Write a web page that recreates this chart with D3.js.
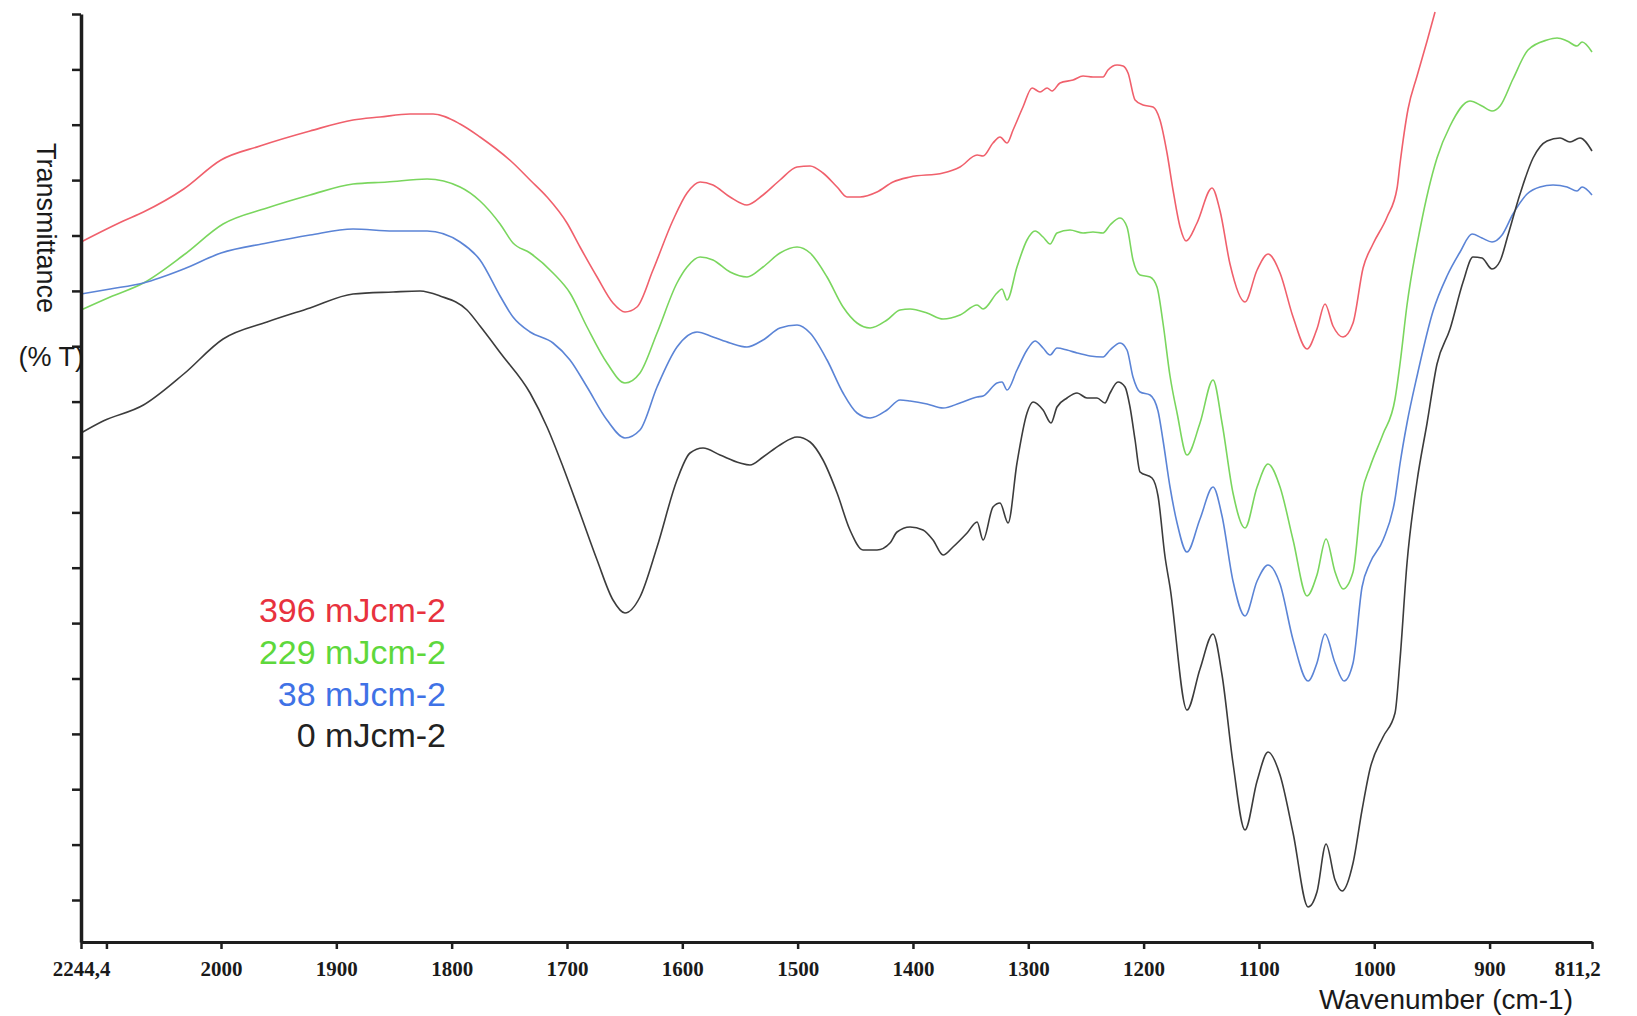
<!DOCTYPE html>
<html>
<head>
<meta charset="utf-8">
<script src="https://cdn.jsdelivr.net/npm/d3@7"></script>
<style>
  html, body { margin: 0; padding: 0; background: #ffffff; }
  svg { display: block; }
</style>
</head>
<body>
<svg id="chart" width="1637" height="1016"></svg>
<script>
// FTIR transmittance spectra of films exposed to increasing UV doses.
// Each spectrum: [wavenumber (cm-1), transmittance (arbitrary %T units, offset stack)]

const dose396 = [[2244.4,70.0],[2170.6,72.1],[2135.4,73.0],[2065.1,75.3],[2000,78.2],[1966.2,79.6],[1922.8,81.1],[1885.5,82.2],[1862.1,82.5],[1836.1,82.8],[1816.1,82.8],[1792.7,81.8],[1775.4,80.5],[1746.8,77.9],[1732,76.2],[1717.3,74.5],[1700,71.9],[1688.7,69.5],[1673.9,66.5],[1660.1,63.9],[1649.7,63.0],[1639.3,63.5],[1625.4,67.2],[1608,72.2],[1595.9,74.9],[1584.6,76.0],[1573.4,75.7],[1558.6,74.5],[1543.9,73.7],[1530,74.7],[1515.3,76.2],[1500.5,77.5],[1489.2,77.6],[1478,76.9],[1465.8,75.5],[1457.2,74.5],[1445.9,74.5],[1431.2,75.0],[1417.3,76.0],[1402.5,76.5],[1373.9,76.9],[1359.2,77.5],[1344.4,78.7],[1339.2,78.6],[1330.6,79.9],[1324.5,80.5],[1318.4,79.9],[1313.2,81.2],[1304.6,83.5],[1296.7,85.4],[1289.8,85.0],[1283.7,85.4],[1279.4,85.1],[1272.5,85.9],[1261.2,86.2],[1252.5,86.6],[1243.9,86.5],[1235.2,86.5],[1230.9,87.2],[1223,87.7],[1217.8,87.6],[1213.5,86.9],[1207.4,84.2],[1200.5,83.7],[1191.8,83.5],[1185.8,82.2],[1179.7,78.9],[1174.5,75.2],[1168.4,71.5],[1163.2,70.1],[1153.7,71.9],[1140.7,75.4],[1133.7,73.1],[1125.1,67.8],[1112.1,64.0],[1101.6,67.2],[1092.1,68.8],[1081.7,66.9],[1070.4,62.5],[1058.3,59.3],[1049.7,61.3],[1042.7,63.8],[1035.8,61.6],[1027.1,60.5],[1018.4,61.9],[1009.7,67.4],[1001.1,69.8],[988.9,72.5],[980.2,75.4],[977.7,77.8],[970.7,83.3],[962.9,86.6],[954.2,90.1],[947.3,93.0]];

const dose229 = [[2244.4,63.2],[2193.4,64.5],[2135.4,65.9],[2065.1,68.7],[1998.2,71.8],[1960.1,73.4],[1922.8,74.7],[1885.5,75.8],[1856,76.0],[1821.3,76.3],[1792.7,75.5],[1775.4,74.1],[1758,71.8],[1746.8,69.9],[1732,68.9],[1712.1,66.9],[1697.4,64.9],[1682.6,61.5],[1665.3,57.9],[1649.7,55.9],[1636.7,56.9],[1621.9,60.9],[1604.6,65.9],[1595.9,67.5],[1584.6,68.5],[1573.4,68.2],[1558.6,67.0],[1543.9,66.5],[1530,67.5],[1515.3,68.9],[1500.5,69.5],[1489.2,68.9],[1474.5,66.5],[1460.6,63.5],[1448.5,61.9],[1437.2,61.4],[1422.5,62.2],[1411.2,63.2],[1402.5,63.3],[1387.8,62.9],[1373.9,62.3],[1359.2,62.7],[1344.4,63.7],[1339.2,63.3],[1327.1,64.9],[1322.8,65.3],[1318.4,64.2],[1309.8,67.5],[1301.1,70.2],[1294.1,71.1],[1287.2,70.5],[1281.1,69.8],[1275.1,70.9],[1263.8,71.2],[1252.5,70.9],[1243.9,71.0],[1235.2,70.9],[1229.1,71.7],[1220.4,72.4],[1214.4,71.5],[1209.2,68.2],[1203.1,66.7],[1194.4,66.5],[1188.4,65.5],[1183.2,61.9],[1177.1,56.6],[1171,52.9],[1162.4,48.7],[1151.1,51.9],[1139.8,56.2],[1132,51.9],[1122.5,44.9],[1112.1,41.4],[1101.6,45.5],[1092.1,47.8],[1081.7,45.5],[1070.4,40.2],[1058.3,34.6],[1049.7,36.7],[1041.8,40.3],[1034,37.0],[1027.1,35.3],[1018.4,37.0],[1010.6,44.9],[1003.7,47.5],[992.4,50.8],[982,54.3],[977.7,57.8],[971.6,63.7],[960.3,71.3],[945.6,78.4],[934.3,81.6],[917,84.1],[906.6,83.6],[897.9,83.1],[890.9,83.6],[879.7,86.3],[866.7,89.2],[850.2,90.2],[841.5,90.4],[832.8,90.1],[824.2,89.6],[819.8,90.0],[811.2,89.0]];

const dose38 = [[2244.4,64.8],[2193.4,65.3],[2135.4,65.9],[2065.1,67.3],[2000,68.9],[1960.1,69.9],[1922.8,70.7],[1885.5,71.3],[1850.8,71.1],[1821.3,71.1],[1792.7,70.0],[1775.4,68.2],[1758,64.6],[1746.8,62.5],[1732,61.0],[1712.1,59.9],[1697.4,58.2],[1682.6,55.5],[1665.3,52.2],[1649.7,50.4],[1636.7,51.2],[1621.9,55.5],[1604.6,59.5],[1587.2,61.0],[1573.4,60.5],[1558.6,59.9],[1543.9,59.5],[1530,60.2],[1515.3,61.4],[1500.5,61.7],[1489.2,60.9],[1474.5,58.2],[1460.6,54.9],[1448.5,52.9],[1437.2,52.4],[1422.5,53.2],[1411.2,54.2],[1402.5,54.1],[1387.8,53.8],[1373.9,53.4],[1359.2,53.9],[1344.4,54.5],[1339.2,54.6],[1327.1,55.9],[1322.8,56.0],[1318.4,55.2],[1309.8,57.2],[1301.1,59.2],[1294.1,60.1],[1287.2,59.4],[1281.1,58.7],[1275.1,59.4],[1266.4,59.2],[1257.7,58.9],[1246.5,58.6],[1235.2,58.5],[1229.1,59.2],[1220.4,59.9],[1214.4,59.2],[1209.2,56.5],[1203.1,55.0],[1194.4,54.7],[1187.5,53.1],[1183.2,50.2],[1177.1,45.5],[1171,41.9],[1162.4,39.0],[1151.1,42.3],[1139.8,45.5],[1132,42.6],[1122.5,36.1],[1112.1,32.6],[1101.6,36.1],[1092.1,37.7],[1081.7,35.8],[1070.4,30.2],[1057.4,26.1],[1049.7,27.9],[1042.7,30.8],[1034,27.9],[1026.2,26.1],[1018.4,27.9],[1010.6,35.5],[1003.7,37.9],[992.4,40.2],[982,44.3],[977.7,47.8],[971.6,51.9],[962.9,56.6],[949,63.1],[936.9,66.6],[925.6,69.0],[915.2,70.8],[906.6,70.4],[897.9,70.0],[889.2,70.7],[879.7,72.8],[867.5,74.8],[856.3,75.5],[845,75.7],[832.8,75.5],[824.2,75.1],[819.8,75.5],[811.2,74.7]];

const dose0 = [[2244.4,50.9],[2205.7,52.1],[2135.4,53.7],[2065.1,56.8],[1998.2,60.3],[1960.1,62.0],[1922.8,63.4],[1885.5,64.8],[1850.8,65.0],[1827.4,65.1],[1810.1,64.6],[1786.7,63.2],[1775.4,61.6],[1757,58.8],[1732,54.9],[1717.3,51.5],[1703.4,47.5],[1688.7,42.9],[1673.9,38.2],[1660.1,34.2],[1649.7,32.9],[1636.7,34.5],[1621.9,39.5],[1604.6,46.2],[1593.3,48.9],[1582,49.4],[1567.3,48.7],[1549.9,47.9],[1541.3,47.7],[1530,48.5],[1515.3,49.7],[1500.5,50.5],[1489.2,50.0],[1478,48.2],[1465.8,44.9],[1454.6,41.2],[1443.3,39.2],[1431.2,39.2],[1419.9,39.9],[1413.8,41.0],[1402.5,41.5],[1391.3,41.2],[1382.6,40.2],[1373.9,38.7],[1365.3,39.5],[1353.1,40.9],[1344.4,42.0],[1339.2,40.2],[1330.6,43.5],[1324.5,43.9],[1317.5,41.9],[1309.8,47.9],[1301.1,52.9],[1295.9,54.0],[1287.2,53.2],[1280.3,51.9],[1275.1,53.5],[1266.4,54.4],[1257.7,54.9],[1249.1,54.4],[1240.4,54.4],[1233.5,53.9],[1229.1,54.9],[1222.2,56.0],[1216.1,55.5],[1211.8,53.5],[1207.4,50.2],[1203.1,47.0],[1192.7,46.4],[1187.5,44.6],[1181.4,38.5],[1177.1,35.5],[1162.4,23.2],[1151.1,27.3],[1139.8,30.8],[1132,26.7],[1122.5,17.9],[1112.1,11.2],[1101.6,16.1],[1092.1,19.0],[1081.7,16.7],[1070.4,10.9],[1057.4,3.5],[1049.7,5.0],[1041.8,9.8],[1034,6.2],[1027.9,5.1],[1018.4,7.9],[1010.6,13.2],[1003.7,17.3],[992.4,20.5],[982,22.9],[977.7,28.2],[971.6,37.9],[962.9,46.1],[954.2,51.9],[945.6,57.8],[934.3,61.3],[923,66.0],[914.4,68.5],[906.6,68.4],[897.9,67.3],[890.9,68.1],[884,70.7],[873.6,74.8],[862.3,78.4],[850.2,80.1],[838.9,80.4],[830.3,80.0],[821.6,80.4],[811.2,79.1]];

const doseLabels = ["396 mJcm-2", "229 mJcm-2", "38 mJcm-2", "0 mJcm-2"];

const xTickValues = [2244.4, 2200, 2000, 1900, 1800, 1700, 1600, 1500, 1400, 1300, 1200, 1100, 1000, 900, 811.2];
const xTickLabels = ["2244,4", "", "2000", "1900", "1800", "1700", "1600", "1500", "1400", "1300", "1200", "1100", "1000", "900", "811,2"];
const yTickValues = [4.2, 9.74, 15.28, 20.81, 26.35, 31.89, 37.43, 42.96, 48.5, 54.04, 59.58, 65.11, 70.65, 76.19, 81.73, 87.26, 92.8];

// ---- styling ----
const lineColors  = ["#f0606c", "#7ad65e", "#5b84d6", "#3c3c3c"];
const labelColors = ["#e8323e", "#5ed83c", "#3f72e6", "#222222"];
const spectra = [dose396, dose229, dose38, dose0];

const svg = d3.select("#chart");

// The region above 2000 cm-1 is drawn compressed, as on the instrument printout.
const x = d3.scaleLinear()
  .domain([2244.4, 2000, 811.2])
  .range([81, 221, 1592]);

const y = d3.scaleLinear()
  .domain([0, 92.8])
  .range([942, 14]);

// spectra
const line = d3.line()
  .x(d => x(d[0]))
  .y(d => y(d[1]))
  .curve(d3.curveMonotoneX);

svg.append("g")
  .selectAll("path")
  .data(spectra)
  .join("path")
  .attr("d", line)
  .attr("fill", "none")
  .attr("stroke", (d, i) => lineColors[i])
  .attr("stroke-width", 1.6)
  .attr("stroke-linejoin", "round");

// x axis
const xAxis = d3.axisBottom(x)
  .tickValues(xTickValues)
  .tickFormat((d, i) => xTickLabels[i])
  .tickSize(7)
  .tickSizeOuter(0)
  .tickPadding(12);

const gx = svg.append("g")
  .attr("transform", `translate(0,${y(0)})`)
  .call(xAxis);
gx.select(".domain").attr("stroke", "#1e1e1e").attr("stroke-width", 3);
gx.selectAll(".tick line").attr("stroke", "#1e1e1e").attr("stroke-width", 2.5);
gx.selectAll(".tick text")
  .attr("fill", "#1a1a1a")
  .style("font-family", "'Liberation Serif', 'Times New Roman', serif")
  .style("font-size", "21px")
  .style("font-weight", "bold")
  .attr("dx", (d, i) => i === xTickLabels.length - 1 ? "-0.7em" : 0);

// y axis (unlabelled ticks)
const yAxis = d3.axisLeft(y)
  .tickValues(yTickValues)
  .tickFormat("")
  .tickSize(9)
  .tickSizeOuter(0);

const gy = svg.append("g")
  .attr("transform", `translate(${x(2244.4)},0)`)
  .call(yAxis);
gy.select(".domain").attr("stroke", "#1e1e1e").attr("stroke-width", 3.5);
gy.selectAll(".tick line").attr("stroke", "#1e1e1e").attr("stroke-width", 2.5);

// axis titles
svg.append("text")
  .attr("transform", "translate(37,143) rotate(90)")
  .attr("fill", "#1a1a1a")
  .style("font-family", "'Liberation Sans', Arial, sans-serif")
  .style("font-size", "27px")
  .text("Transmittance");

svg.append("text")
  .attr("x", 84)
  .attr("y", 366)
  .attr("text-anchor", "end")
  .attr("fill", "#1a1a1a")
  .style("font-family", "'Liberation Sans', Arial, sans-serif")
  .style("font-size", "27px")
  .text("(% T)");

svg.append("text")
  .attr("x", 1573)
  .attr("y", 1009)
  .attr("text-anchor", "end")
  .attr("fill", "#1a1a1a")
  .style("font-family", "'Liberation Sans', Arial, sans-serif")
  .style("font-size", "28px")
  .text("Wavenumber (cm-1)");

// dose legend
svg.append("g")
  .selectAll("text")
  .data(doseLabels)
  .join("text")
  .attr("x", 446)
  .attr("y", (d, i) => 622 + i * 41.8)
  .attr("text-anchor", "end")
  .attr("fill", (d, i) => labelColors[i])
  .style("font-family", "'Liberation Sans', Arial, sans-serif")
  .style("font-size", "34px")
  .text(d => d);
</script>
</body>
</html>
